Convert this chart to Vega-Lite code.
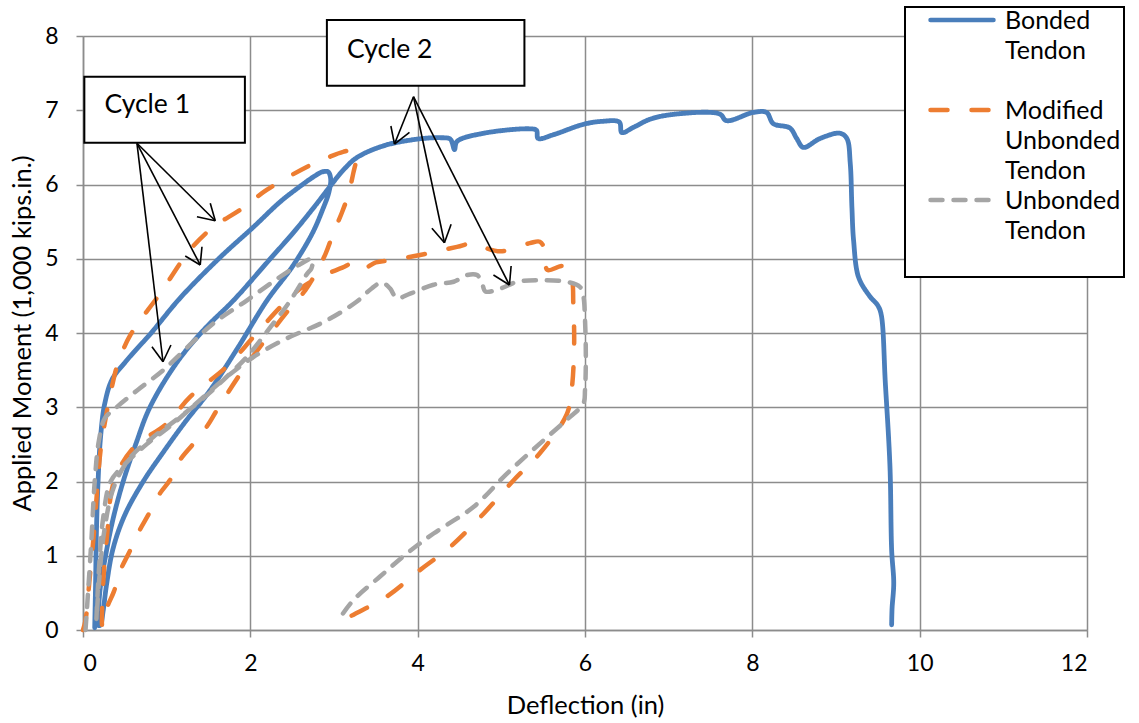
{
  "$schema": "https://vega.github.io/schema/vega-lite/v6.json",
  "width": 1004,
  "height": 594,
  "autosize": {"type": "none"},
  "padding": {"left": 83, "top": 36, "right": 52, "bottom": 93},
  "background": "white",
  "config": {
    "view": {"stroke": null},
    "font": "Lato",
    "axis": {
      "gridColor": "#8c8c8c", "gridWidth": 1.5, "gridOpacity": 1,
      "domainColor": "#8c8c8c", "domainWidth": 1.5,
      "tickColor": "#8c8c8c", "tickWidth": 1.5, "tickSize": 7,
      "labelFont": "Lato", "labelFontSize": 23, "labelColor": "#000000",
      "titleFont": "Lato", "titleFontSize": 25.5, "titleFontWeight": "normal", "titleColor": "#000000"
    }
  },
  "datasets": {
    "curves": [
      {"s": "Bonded Tendon", "i": 1, "x": 0.14, "y": 0.03},
      {"s": "Bonded Tendon", "i": 2, "x": 0.15, "y": 0.6},
      {"s": "Bonded Tendon", "i": 3, "x": 0.16, "y": 1.3},
      {"s": "Bonded Tendon", "i": 4, "x": 0.18, "y": 2.0},
      {"s": "Bonded Tendon", "i": 5, "x": 0.21, "y": 2.6},
      {"s": "Bonded Tendon", "i": 6, "x": 0.26, "y": 3.05},
      {"s": "Bonded Tendon", "i": 7, "x": 0.35, "y": 3.38},
      {"s": "Bonded Tendon", "i": 8, "x": 0.5, "y": 3.6},
      {"s": "Bonded Tendon", "i": 9, "x": 0.63, "y": 3.77},
      {"s": "Bonded Tendon", "i": 10, "x": 0.8, "y": 3.98},
      {"s": "Bonded Tendon", "i": 11, "x": 1.16, "y": 4.47},
      {"s": "Bonded Tendon", "i": 12, "x": 1.64, "y": 5.02},
      {"s": "Bonded Tendon", "i": 13, "x": 2.04, "y": 5.43},
      {"s": "Bonded Tendon", "i": 14, "x": 2.36, "y": 5.77},
      {"s": "Bonded Tendon", "i": 15, "x": 2.6, "y": 5.98},
      {"s": "Bonded Tendon", "i": 16, "x": 2.75, "y": 6.1},
      {"s": "Bonded Tendon", "i": 17, "x": 2.86, "y": 6.17},
      {"s": "Bonded Tendon", "i": 18, "x": 2.93, "y": 6.17},
      {"s": "Bonded Tendon", "i": 19, "x": 2.96, "y": 6.08},
      {"s": "Bonded Tendon", "i": 20, "x": 2.94, "y": 5.9},
      {"s": "Bonded Tendon", "i": 21, "x": 2.86, "y": 5.65},
      {"s": "Bonded Tendon", "i": 22, "x": 2.74, "y": 5.34},
      {"s": "Bonded Tendon", "i": 23, "x": 2.5, "y": 4.89},
      {"s": "Bonded Tendon", "i": 24, "x": 2.2, "y": 4.44},
      {"s": "Bonded Tendon", "i": 25, "x": 1.85, "y": 3.8},
      {"s": "Bonded Tendon", "i": 26, "x": 1.52, "y": 3.23},
      {"s": "Bonded Tendon", "i": 27, "x": 1.22, "y": 2.8},
      {"s": "Bonded Tendon", "i": 28, "x": 0.95, "y": 2.38},
      {"s": "Bonded Tendon", "i": 29, "x": 0.72, "y": 2.0},
      {"s": "Bonded Tendon", "i": 30, "x": 0.5, "y": 1.55},
      {"s": "Bonded Tendon", "i": 31, "x": 0.36, "y": 1.1},
      {"s": "Bonded Tendon", "i": 32, "x": 0.28, "y": 0.6},
      {"s": "Bonded Tendon", "i": 33, "x": 0.24, "y": 0.25},
      {"s": "Bonded Tendon", "i": 34, "x": 0.21, "y": 0.07},
      {"s": "Bonded Tendon", "i": 35, "x": 0.19, "y": 0.06},
      {"s": "Bonded Tendon", "i": 36, "x": 0.2, "y": 0.5},
      {"s": "Bonded Tendon", "i": 37, "x": 0.27, "y": 1.0},
      {"s": "Bonded Tendon", "i": 38, "x": 0.36, "y": 1.5},
      {"s": "Bonded Tendon", "i": 39, "x": 0.48, "y": 2.0},
      {"s": "Bonded Tendon", "i": 40, "x": 0.63, "y": 2.5},
      {"s": "Bonded Tendon", "i": 41, "x": 0.8, "y": 3.0},
      {"s": "Bonded Tendon", "i": 42, "x": 1.12, "y": 3.6},
      {"s": "Bonded Tendon", "i": 43, "x": 1.45, "y": 4.05},
      {"s": "Bonded Tendon", "i": 44, "x": 1.8, "y": 4.44},
      {"s": "Bonded Tendon", "i": 45, "x": 2.2, "y": 4.95},
      {"s": "Bonded Tendon", "i": 46, "x": 2.55, "y": 5.4},
      {"s": "Bonded Tendon", "i": 47, "x": 2.8, "y": 5.75},
      {"s": "Bonded Tendon", "i": 48, "x": 2.95, "y": 5.97},
      {"s": "Bonded Tendon", "i": 49, "x": 3.1, "y": 6.18},
      {"s": "Bonded Tendon", "i": 50, "x": 3.27, "y": 6.36},
      {"s": "Bonded Tendon", "i": 51, "x": 3.59, "y": 6.52},
      {"s": "Bonded Tendon", "i": 52, "x": 3.99, "y": 6.61},
      {"s": "Bonded Tendon", "i": 53, "x": 4.27, "y": 6.63},
      {"s": "Bonded Tendon", "i": 54, "x": 4.39, "y": 6.61},
      {"s": "Bonded Tendon", "i": 55, "x": 4.44, "y": 6.47},
      {"s": "Bonded Tendon", "i": 56, "x": 4.47, "y": 6.58},
      {"s": "Bonded Tendon", "i": 57, "x": 4.79, "y": 6.69},
      {"s": "Bonded Tendon", "i": 58, "x": 5.34, "y": 6.75},
      {"s": "Bonded Tendon", "i": 59, "x": 5.42, "y": 6.73},
      {"s": "Bonded Tendon", "i": 60, "x": 5.44, "y": 6.62},
      {"s": "Bonded Tendon", "i": 61, "x": 5.62, "y": 6.67},
      {"s": "Bonded Tendon", "i": 62, "x": 5.98, "y": 6.81},
      {"s": "Bonded Tendon", "i": 63, "x": 6.2, "y": 6.85},
      {"s": "Bonded Tendon", "i": 64, "x": 6.41, "y": 6.84},
      {"s": "Bonded Tendon", "i": 65, "x": 6.44, "y": 6.7},
      {"s": "Bonded Tendon", "i": 66, "x": 6.58, "y": 6.77},
      {"s": "Bonded Tendon", "i": 67, "x": 6.78, "y": 6.88},
      {"s": "Bonded Tendon", "i": 68, "x": 7.1, "y": 6.95},
      {"s": "Bonded Tendon", "i": 69, "x": 7.61, "y": 6.95},
      {"s": "Bonded Tendon", "i": 70, "x": 7.69, "y": 6.86},
      {"s": "Bonded Tendon", "i": 71, "x": 8.01, "y": 6.97},
      {"s": "Bonded Tendon", "i": 72, "x": 8.17, "y": 6.97},
      {"s": "Bonded Tendon", "i": 73, "x": 8.25, "y": 6.82},
      {"s": "Bonded Tendon", "i": 74, "x": 8.45, "y": 6.76},
      {"s": "Bonded Tendon", "i": 75, "x": 8.53, "y": 6.62},
      {"s": "Bonded Tendon", "i": 76, "x": 8.61, "y": 6.5},
      {"s": "Bonded Tendon", "i": 77, "x": 8.81, "y": 6.62},
      {"s": "Bonded Tendon", "i": 78, "x": 9.05, "y": 6.69},
      {"s": "Bonded Tendon", "i": 79, "x": 9.13, "y": 6.62},
      {"s": "Bonded Tendon", "i": 80, "x": 9.17, "y": 6.29},
      {"s": "Bonded Tendon", "i": 81, "x": 9.19, "y": 5.7},
      {"s": "Bonded Tendon", "i": 82, "x": 9.21, "y": 5.25},
      {"s": "Bonded Tendon", "i": 83, "x": 9.27, "y": 4.75},
      {"s": "Bonded Tendon", "i": 84, "x": 9.4, "y": 4.5},
      {"s": "Bonded Tendon", "i": 85, "x": 9.5, "y": 4.37},
      {"s": "Bonded Tendon", "i": 86, "x": 9.54, "y": 4.25},
      {"s": "Bonded Tendon", "i": 87, "x": 9.59, "y": 3.32},
      {"s": "Bonded Tendon", "i": 88, "x": 9.645, "y": 2.2},
      {"s": "Bonded Tendon", "i": 89, "x": 9.665, "y": 1.08},
      {"s": "Bonded Tendon", "i": 90, "x": 9.69, "y": 0.63},
      {"s": "Bonded Tendon", "i": 91, "x": 9.67, "y": 0.29},
      {"s": "Bonded Tendon", "i": 92, "x": 9.665, "y": 0.07},

      {"s": "Modified Unbonded Tendon", "i": 1, "x": 0.0, "y": 0.0},
      {"s": "Modified Unbonded Tendon", "i": 2, "x": 0.03, "y": 0.13},
      {"s": "Modified Unbonded Tendon", "i": 3, "x": 0.08, "y": 0.7},
      {"s": "Modified Unbonded Tendon", "i": 4, "x": 0.13, "y": 1.3},
      {"s": "Modified Unbonded Tendon", "i": 5, "x": 0.17, "y": 1.9},
      {"s": "Modified Unbonded Tendon", "i": 6, "x": 0.21, "y": 2.42},
      {"s": "Modified Unbonded Tendon", "i": 7, "x": 0.27, "y": 2.85},
      {"s": "Modified Unbonded Tendon", "i": 8, "x": 0.35, "y": 3.3},
      {"s": "Modified Unbonded Tendon", "i": 9, "x": 0.42, "y": 3.6},
      {"s": "Modified Unbonded Tendon", "i": 10, "x": 0.57, "y": 3.98},
      {"s": "Modified Unbonded Tendon", "i": 11, "x": 0.92, "y": 4.53},
      {"s": "Modified Unbonded Tendon", "i": 12, "x": 1.28, "y": 5.12},
      {"s": "Modified Unbonded Tendon", "i": 13, "x": 1.56, "y": 5.43},
      {"s": "Modified Unbonded Tendon", "i": 14, "x": 1.88, "y": 5.66},
      {"s": "Modified Unbonded Tendon", "i": 15, "x": 2.2, "y": 5.93},
      {"s": "Modified Unbonded Tendon", "i": 16, "x": 2.68, "y": 6.24},
      {"s": "Modified Unbonded Tendon", "i": 17, "x": 2.92, "y": 6.36},
      {"s": "Modified Unbonded Tendon", "i": 18, "x": 3.11, "y": 6.44},
      {"s": "Modified Unbonded Tendon", "i": 19, "x": 3.25, "y": 6.46},
      {"s": "Modified Unbonded Tendon", "i": 20, "x": 3.27, "y": 6.38},
      {"s": "Modified Unbonded Tendon", "i": 21, "x": 3.23, "y": 6.15},
      {"s": "Modified Unbonded Tendon", "i": 22, "x": 3.17, "y": 5.86},
      {"s": "Modified Unbonded Tendon", "i": 23, "x": 3.09, "y": 5.61},
      {"s": "Modified Unbonded Tendon", "i": 24, "x": 2.99, "y": 5.34},
      {"s": "Modified Unbonded Tendon", "i": 25, "x": 2.9, "y": 5.07},
      {"s": "Modified Unbonded Tendon", "i": 26, "x": 2.78, "y": 4.8},
      {"s": "Modified Unbonded Tendon", "i": 27, "x": 2.66, "y": 4.58},
      {"s": "Modified Unbonded Tendon", "i": 28, "x": 2.45, "y": 4.3},
      {"s": "Modified Unbonded Tendon", "i": 29, "x": 2.16, "y": 3.88},
      {"s": "Modified Unbonded Tendon", "i": 30, "x": 1.88, "y": 3.45},
      {"s": "Modified Unbonded Tendon", "i": 31, "x": 1.6, "y": 2.96},
      {"s": "Modified Unbonded Tendon", "i": 32, "x": 1.48, "y": 2.74},
      {"s": "Modified Unbonded Tendon", "i": 33, "x": 1.32, "y": 2.51},
      {"s": "Modified Unbonded Tendon", "i": 34, "x": 1.16, "y": 2.29},
      {"s": "Modified Unbonded Tendon", "i": 35, "x": 1.04, "y": 2.02},
      {"s": "Modified Unbonded Tendon", "i": 36, "x": 0.92, "y": 1.84},
      {"s": "Modified Unbonded Tendon", "i": 37, "x": 0.78, "y": 1.55},
      {"s": "Modified Unbonded Tendon", "i": 38, "x": 0.68, "y": 1.35},
      {"s": "Modified Unbonded Tendon", "i": 39, "x": 0.55, "y": 1.04},
      {"s": "Modified Unbonded Tendon", "i": 40, "x": 0.45, "y": 0.81},
      {"s": "Modified Unbonded Tendon", "i": 41, "x": 0.37, "y": 0.52},
      {"s": "Modified Unbonded Tendon", "i": 42, "x": 0.29, "y": 0.31},
      {"s": "Modified Unbonded Tendon", "i": 43, "x": 0.25, "y": 0.13},
      {"s": "Modified Unbonded Tendon", "i": 44, "x": 0.23, "y": 0.05},
      {"s": "Modified Unbonded Tendon", "i": 45, "x": 0.24, "y": 0.6},
      {"s": "Modified Unbonded Tendon", "i": 46, "x": 0.29, "y": 1.3},
      {"s": "Modified Unbonded Tendon", "i": 47, "x": 0.37, "y": 2.0},
      {"s": "Modified Unbonded Tendon", "i": 48, "x": 0.6, "y": 2.45},
      {"s": "Modified Unbonded Tendon", "i": 49, "x": 1.0, "y": 2.78},
      {"s": "Modified Unbonded Tendon", "i": 50, "x": 1.28, "y": 3.14},
      {"s": "Modified Unbonded Tendon", "i": 51, "x": 1.72, "y": 3.55},
      {"s": "Modified Unbonded Tendon", "i": 52, "x": 2.04, "y": 3.95},
      {"s": "Modified Unbonded Tendon", "i": 53, "x": 2.36, "y": 4.35},
      {"s": "Modified Unbonded Tendon", "i": 54, "x": 2.6, "y": 4.6},
      {"s": "Modified Unbonded Tendon", "i": 55, "x": 2.84, "y": 4.76},
      {"s": "Modified Unbonded Tendon", "i": 56, "x": 3.1, "y": 4.88},
      {"s": "Modified Unbonded Tendon", "i": 57, "x": 3.25, "y": 4.95},
      {"s": "Modified Unbonded Tendon", "i": 58, "x": 3.35, "y": 4.87},
      {"s": "Modified Unbonded Tendon", "i": 59, "x": 3.5, "y": 4.95},
      {"s": "Modified Unbonded Tendon", "i": 60, "x": 3.67, "y": 4.98},
      {"s": "Modified Unbonded Tendon", "i": 61, "x": 4.03, "y": 5.05},
      {"s": "Modified Unbonded Tendon", "i": 62, "x": 4.47, "y": 5.16},
      {"s": "Modified Unbonded Tendon", "i": 63, "x": 4.67, "y": 5.21},
      {"s": "Modified Unbonded Tendon", "i": 64, "x": 4.8, "y": 5.15},
      {"s": "Modified Unbonded Tendon", "i": 65, "x": 4.99, "y": 5.1},
      {"s": "Modified Unbonded Tendon", "i": 66, "x": 5.34, "y": 5.21},
      {"s": "Modified Unbonded Tendon", "i": 67, "x": 5.46, "y": 5.23},
      {"s": "Modified Unbonded Tendon", "i": 68, "x": 5.52, "y": 5.12},
      {"s": "Modified Unbonded Tendon", "i": 69, "x": 5.55, "y": 4.85},
      {"s": "Modified Unbonded Tendon", "i": 70, "x": 5.74, "y": 4.9},
      {"s": "Modified Unbonded Tendon", "i": 71, "x": 5.84, "y": 4.72},
      {"s": "Modified Unbonded Tendon", "i": 72, "x": 5.86, "y": 4.4},
      {"s": "Modified Unbonded Tendon", "i": 73, "x": 5.87, "y": 3.82},
      {"s": "Modified Unbonded Tendon", "i": 74, "x": 5.84, "y": 3.23},
      {"s": "Modified Unbonded Tendon", "i": 75, "x": 5.78, "y": 2.9},
      {"s": "Modified Unbonded Tendon", "i": 76, "x": 5.46, "y": 2.38},
      {"s": "Modified Unbonded Tendon", "i": 77, "x": 5.15, "y": 2.02},
      {"s": "Modified Unbonded Tendon", "i": 78, "x": 4.79, "y": 1.57},
      {"s": "Modified Unbonded Tendon", "i": 79, "x": 4.39, "y": 1.12},
      {"s": "Modified Unbonded Tendon", "i": 80, "x": 4.03, "y": 0.81},
      {"s": "Modified Unbonded Tendon", "i": 81, "x": 3.63, "y": 0.45},
      {"s": "Modified Unbonded Tendon", "i": 82, "x": 3.19, "y": 0.18},
      {"s": "Modified Unbonded Tendon", "i": 83, "x": 3.07, "y": 0.09},

      {"s": "Unbonded Tendon", "i": 1, "x": 0.03, "y": 0.0},
      {"s": "Unbonded Tendon", "i": 2, "x": 0.06, "y": 0.5},
      {"s": "Unbonded Tendon", "i": 3, "x": 0.1, "y": 1.2},
      {"s": "Unbonded Tendon", "i": 4, "x": 0.14, "y": 2.0},
      {"s": "Unbonded Tendon", "i": 5, "x": 0.19, "y": 2.55},
      {"s": "Unbonded Tendon", "i": 6, "x": 0.26, "y": 2.85},
      {"s": "Unbonded Tendon", "i": 7, "x": 0.37, "y": 2.97},
      {"s": "Unbonded Tendon", "i": 8, "x": 0.65, "y": 3.23},
      {"s": "Unbonded Tendon", "i": 9, "x": 0.96, "y": 3.5},
      {"s": "Unbonded Tendon", "i": 10, "x": 1.24, "y": 3.8},
      {"s": "Unbonded Tendon", "i": 11, "x": 1.56, "y": 4.13},
      {"s": "Unbonded Tendon", "i": 12, "x": 1.96, "y": 4.44},
      {"s": "Unbonded Tendon", "i": 13, "x": 2.36, "y": 4.76},
      {"s": "Unbonded Tendon", "i": 14, "x": 2.6, "y": 4.93},
      {"s": "Unbonded Tendon", "i": 15, "x": 2.74, "y": 5.0},
      {"s": "Unbonded Tendon", "i": 16, "x": 2.73, "y": 4.87},
      {"s": "Unbonded Tendon", "i": 17, "x": 2.68, "y": 4.8},
      {"s": "Unbonded Tendon", "i": 18, "x": 2.48, "y": 4.44},
      {"s": "Unbonded Tendon", "i": 19, "x": 2.24, "y": 4.08},
      {"s": "Unbonded Tendon", "i": 20, "x": 1.96, "y": 3.68},
      {"s": "Unbonded Tendon", "i": 21, "x": 1.68, "y": 3.37},
      {"s": "Unbonded Tendon", "i": 22, "x": 1.52, "y": 3.2},
      {"s": "Unbonded Tendon", "i": 23, "x": 1.16, "y": 2.87},
      {"s": "Unbonded Tendon", "i": 24, "x": 0.84, "y": 2.6},
      {"s": "Unbonded Tendon", "i": 25, "x": 0.57, "y": 2.33},
      {"s": "Unbonded Tendon", "i": 26, "x": 0.37, "y": 1.93},
      {"s": "Unbonded Tendon", "i": 27, "x": 0.25, "y": 1.3},
      {"s": "Unbonded Tendon", "i": 28, "x": 0.19, "y": 0.63},
      {"s": "Unbonded Tendon", "i": 29, "x": 0.16, "y": 0.13},
      {"s": "Unbonded Tendon", "i": 30, "x": 0.19, "y": 0.8},
      {"s": "Unbonded Tendon", "i": 31, "x": 0.24, "y": 1.5},
      {"s": "Unbonded Tendon", "i": 32, "x": 0.33, "y": 2.0},
      {"s": "Unbonded Tendon", "i": 33, "x": 0.49, "y": 2.22},
      {"s": "Unbonded Tendon", "i": 34, "x": 0.77, "y": 2.51},
      {"s": "Unbonded Tendon", "i": 35, "x": 1.08, "y": 2.78},
      {"s": "Unbonded Tendon", "i": 36, "x": 1.4, "y": 3.1},
      {"s": "Unbonded Tendon", "i": 37, "x": 1.72, "y": 3.41},
      {"s": "Unbonded Tendon", "i": 38, "x": 2.04, "y": 3.68},
      {"s": "Unbonded Tendon", "i": 39, "x": 2.44, "y": 3.93},
      {"s": "Unbonded Tendon", "i": 40, "x": 2.88, "y": 4.15},
      {"s": "Unbonded Tendon", "i": 41, "x": 3.27, "y": 4.42},
      {"s": "Unbonded Tendon", "i": 42, "x": 3.45, "y": 4.6},
      {"s": "Unbonded Tendon", "i": 43, "x": 3.57, "y": 4.68},
      {"s": "Unbonded Tendon", "i": 44, "x": 3.67, "y": 4.6},
      {"s": "Unbonded Tendon", "i": 45, "x": 3.75, "y": 4.47},
      {"s": "Unbonded Tendon", "i": 46, "x": 3.91, "y": 4.53},
      {"s": "Unbonded Tendon", "i": 47, "x": 4.19, "y": 4.65},
      {"s": "Unbonded Tendon", "i": 48, "x": 4.43, "y": 4.69},
      {"s": "Unbonded Tendon", "i": 49, "x": 4.59, "y": 4.78},
      {"s": "Unbonded Tendon", "i": 50, "x": 4.71, "y": 4.78},
      {"s": "Unbonded Tendon", "i": 51, "x": 4.77, "y": 4.67},
      {"s": "Unbonded Tendon", "i": 52, "x": 4.81, "y": 4.56},
      {"s": "Unbonded Tendon", "i": 53, "x": 4.99, "y": 4.6},
      {"s": "Unbonded Tendon", "i": 54, "x": 5.19, "y": 4.69},
      {"s": "Unbonded Tendon", "i": 55, "x": 5.46, "y": 4.71},
      {"s": "Unbonded Tendon", "i": 56, "x": 5.78, "y": 4.69},
      {"s": "Unbonded Tendon", "i": 57, "x": 5.94, "y": 4.62},
      {"s": "Unbonded Tendon", "i": 58, "x": 5.98, "y": 4.5},
      {"s": "Unbonded Tendon", "i": 59, "x": 6.0, "y": 4.18},
      {"s": "Unbonded Tendon", "i": 60, "x": 6.01, "y": 3.68},
      {"s": "Unbonded Tendon", "i": 61, "x": 6.0, "y": 3.23},
      {"s": "Unbonded Tendon", "i": 62, "x": 5.98, "y": 3.05},
      {"s": "Unbonded Tendon", "i": 63, "x": 5.78, "y": 2.83},
      {"s": "Unbonded Tendon", "i": 64, "x": 5.46, "y": 2.51},
      {"s": "Unbonded Tendon", "i": 65, "x": 5.07, "y": 2.11},
      {"s": "Unbonded Tendon", "i": 66, "x": 4.67, "y": 1.66},
      {"s": "Unbonded Tendon", "i": 67, "x": 4.19, "y": 1.3},
      {"s": "Unbonded Tendon", "i": 68, "x": 3.87, "y": 1.03},
      {"s": "Unbonded Tendon", "i": 69, "x": 3.55, "y": 0.72},
      {"s": "Unbonded Tendon", "i": 70, "x": 3.23, "y": 0.4},
      {"s": "Unbonded Tendon", "i": 71, "x": 3.05, "y": 0.13}
    ],
    "arrows": [
      {"x": 0.645, "y": 6.555, "x2": 1.581, "y2": 5.512},
      {"x": 1.581, "y": 5.512, "x2": 1.521, "y2": 5.747},
      {"x": 1.581, "y": 5.512, "x2": 1.362, "y2": 5.566},
      {"x": 0.645, "y": 6.555, "x2": 1.401, "y2": 4.916},
      {"x": 1.401, "y": 4.916, "x2": 1.222, "y2": 5.037},
      {"x": 1.401, "y": 4.916, "x2": 1.422, "y2": 5.162},
      {"x": 0.645, "y": 6.555, "x2": 0.956, "y2": 3.613},
      {"x": 0.956, "y": 3.613, "x2": 0.824, "y2": 3.815},
      {"x": 0.956, "y": 3.613, "x2": 1.051, "y2": 3.838},
      {"x": 3.95, "y": 7.182, "x2": 3.723, "y2": 6.545},
      {"x": 3.723, "y": 6.545, "x2": 3.68, "y2": 6.788},
      {"x": 3.723, "y": 6.545, "x2": 3.902, "y2": 6.703},
      {"x": 3.95, "y": 7.182, "x2": 4.32, "y2": 5.216},
      {"x": 4.32, "y": 5.216, "x2": 4.17, "y2": 5.41},
      {"x": 4.32, "y": 5.216, "x2": 4.4, "y2": 5.464},
      {"x": 3.95, "y": 7.182, "x2": 5.097, "y2": 4.646},
      {"x": 5.097, "y": 4.646, "x2": 4.906, "y2": 4.781},
      {"x": 5.097, "y": 4.646, "x2": 5.117, "y2": 4.902}
    ],
    "boxes": [
      {"label": "Cycle 1", "x": 0.016, "x2": 1.935, "y": 6.563, "y2": 7.452, "tx": 0.256, "ty": 7.07},
      {"label": "Cycle 2", "x": 2.915, "x2": 5.276, "y": 7.331, "y2": 8.215, "tx": 3.154, "ty": 7.81}
    ]
  },
  "layer": [
    {
      "data": {"name": "curves"},
      "mark": {"type": "line", "strokeWidth": 4.8, "strokeCap": "round", "strokeJoin": "round", "interpolate": "catmull-rom"},
      "transform": [{"filter": "datum.s === 'Bonded Tendon'"}],
      "encoding": {
        "x": {"field": "x", "type": "quantitative", "scale": {"domain": [0, 12], "nice": false}, "axis": {"values": [0, 2, 4, 6, 8, 10, 12], "format": "d", "title": "Deflection (in)", "labelPadding": 15, "titlePadding": 18}},
        "y": {"field": "y", "type": "quantitative", "scale": {"domain": [0, 8], "nice": false}, "axis": {"values": [0, 1, 2, 3, 4, 5, 6, 7, 8], "format": "d", "title": "Applied Moment (1,000 kips.in.)", "labelPadding": 18, "titlePadding": 9}},
        "order": {"field": "i", "type": "quantitative"},
        "color": {
          "field": "s", "type": "nominal",
          "scale": {"domain": ["Bonded Tendon", "Modified Unbonded Tendon", "Unbonded Tendon"], "range": ["#4a7ebb", "#ed7d31", "#a5a5a5"]},
          "legend": {
            "title": null, "orient": "none", "legendX": 822, "legendY": -29,
            "strokeColor": "#000000", "fillColor": "#ffffff", "padding": 3,
            "symbolType": "M-1,0L1,0", "symbolSize": 3969, "symbolStrokeWidth": 4.5, "symbolOffset": 20,
            "labelFont": "Lato", "labelFontSize": 25, "labelColor": "#000000", "labelOffset": 9, "labelBaseline": "top", "labelLimit": 400,
            "labelExpr": "datum.label == 'Unbonded Tendon' ? ['Unbonded    ', 'Tendon', ''] : split(datum.label, ' ')",
            "rowPadding": 5, "gridAlign": "all",
            "encode": {
              "labels": {"update": {"lineHeight": {"value": 30}, "dy": {"value": -11}, "y": {"value": 10}}},
              "symbols": {"update": {"strokeCap": {"value": "round"}, "y": {"value": 10}}},
              "legend": {"update": {"strokeWidth": {"value": 2}}}
            }
          }
        },
        "strokeDash": {
          "field": "s", "type": "nominal",
          "scale": {"domain": ["Bonded Tendon", "Modified Unbonded Tendon", "Unbonded Tendon"], "range": [[1, 0], [17, 24], [12, 11]]}
        }
      }
    },
    {
      "data": {"name": "curves"},
      "mark": {"type": "line", "strokeWidth": 4.5, "strokeCap": "round", "strokeJoin": "round", "interpolate": "catmull-rom"},
      "transform": [{"filter": "datum.s === 'Modified Unbonded Tendon'"}],
      "encoding": {
        "x": {"field": "x", "type": "quantitative"},
        "y": {"field": "y", "type": "quantitative"},
        "order": {"field": "i", "type": "quantitative"},
        "color": {"field": "s", "type": "nominal"},
        "strokeDash": {"field": "s", "type": "nominal"}
      }
    },
    {
      "data": {"name": "curves"},
      "mark": {"type": "line", "strokeWidth": 4.5, "strokeCap": "round", "strokeJoin": "round", "interpolate": "catmull-rom"},
      "transform": [{"filter": "datum.s === 'Unbonded Tendon'"}],
      "encoding": {
        "x": {"field": "x", "type": "quantitative"},
        "y": {"field": "y", "type": "quantitative"},
        "order": {"field": "i", "type": "quantitative"},
        "color": {"field": "s", "type": "nominal"},
        "strokeDash": {"field": "s", "type": "nominal"}
      }
    },
    {
      "data": {"name": "arrows"},
      "mark": {"type": "rule", "color": "#000000", "strokeWidth": 1.6},
      "encoding": {
        "x": {"field": "x", "type": "quantitative"},
        "y": {"field": "y", "type": "quantitative"},
        "x2": {"field": "x2"},
        "y2": {"field": "y2"}
      }
    },
    {
      "data": {"name": "boxes"},
      "mark": {"type": "rect", "fill": "#ffffff", "stroke": "#000000", "strokeWidth": 2},
      "encoding": {
        "x": {"field": "x", "type": "quantitative"},
        "x2": {"field": "x2"},
        "y": {"field": "y", "type": "quantitative"},
        "y2": {"field": "y2"}
      }
    },
    {
      "data": {"name": "boxes"},
      "mark": {"type": "text", "align": "left", "baseline": "middle", "font": "Lato", "fontSize": 26.5, "color": "#000000"},
      "encoding": {
        "x": {"field": "tx", "type": "quantitative"},
        "y": {"field": "ty", "type": "quantitative"},
        "text": {"field": "label"}
      }
    }
  ]
}
